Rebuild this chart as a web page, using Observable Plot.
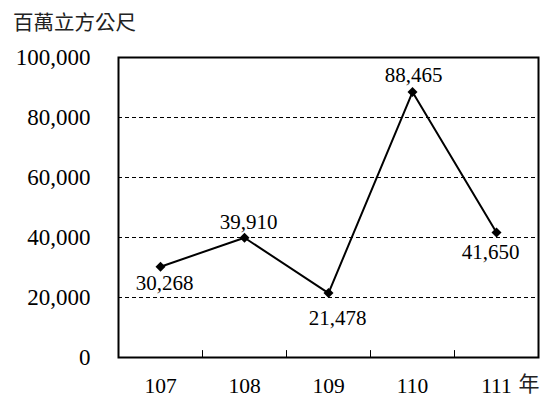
<!DOCTYPE html>
<html>
<head>
<meta charset="utf-8">
<script src="https://cdn.jsdelivr.net/npm/d3@7"></script>
<script src="https://cdn.jsdelivr.net/npm/@observablehq/plot@0.6"></script>
<style>
  body { margin: 0; background: #fff; overflow: hidden; }
  #title { height: 40px; box-sizing: border-box; padding: 9px 0 0 13px; font: 20.5px "Noto Sans CJK TC", sans-serif; color: #222; line-height: 24px; white-space: nowrap; }
</style>
</head>
<body>
<div id="title">百萬立方公尺</div>
<div id="chart"></div>
<script>
const years = [107, 108, 109, 110, 111];
const values = [30268, 39910, 21478, 88465, 41650];
const yTicks = [0, 20000, 40000, 60000, 80000, 100000];
const gridValues = [20000, 40000, 60000, 80000];
const betweenTicks = [107.5, 108.5, 109.5, 110.5];
const unitLabel = "年";

const data = years.map((y, i) => ({year: y, value: values[i]}));
// label placement per point (dx, dy)
const labelOffsets = [[4, 17], [4, -16], [9, 25], [1, -17], [-6, 20]];

const serif = "'Liberation Serif', 'Times New Roman', serif";

const plot = Plot.plot({
  width: 547,
  height: 357,
  marginLeft: 118,
  marginRight: 9,
  marginTop: 17,
  marginBottom: 40,
  style: {fontFamily: serif, background: "#fff", color: "#000"},
  x: {domain: [106.5, 111.5]},
  y: {domain: [0, 100000]},
  marks: [
    Plot.ruleY(gridValues, {stroke: "#000", strokeWidth: 1, strokeDasharray: "4,3"}),
    Plot.ruleX(betweenTicks, {y1: 0, y2: 2300, stroke: "#000", strokeWidth: 1}),
    Plot.frame({stroke: "#000", strokeWidth: 2}),
    Plot.axisY({ticks: yTicks, tickFormat: d3.format(","), tickSize: 0, tickPadding: 28, fontSize: 23, label: null}),
    Plot.axisX({ticks: years, tickFormat: d => String(d), tickSize: 0, tickPadding: 20, fontSize: 21.5, label: null}),
    Plot.line(data, {x: "year", y: "value", stroke: "#000", strokeWidth: 2}),
    Plot.dot(data, {x: "year", y: "value", symbol: "diamond2", r: 4.5, fill: "#000", stroke: "none"}),
    ...data.map((d, i) => Plot.text([d], {x: "year", y: "value", text: dd => d3.format(",")(dd.value), dx: labelOffsets[i][0], dy: labelOffsets[i][1], fontSize: 21, fill: "#000"})),
    Plot.text([unitLabel], {x: 111, y: 0, text: d => d, dx: 22, dy: 27, textAnchor: "start", fontSize: 21, fontFamily: "'Noto Sans CJK TC', sans-serif", fill: "#222"})
  ]
});
document.getElementById("chart").append(plot);
</script>
</body>
</html>
